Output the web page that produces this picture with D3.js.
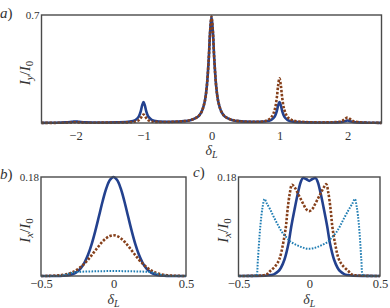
<!DOCTYPE html>
<html>
<head>
<meta charset="utf-8">
<script src="https://cdn.jsdelivr.net/npm/d3@7"></script>
<style>
  body { margin: 0; background: #fff; }
  text { font-family: "Liberation Serif", "DejaVu Serif", serif; fill: #333; }
</style>
</head>
<body>
<div id="chart"></div>
<script>
// ---- data ----
// panel a) : I_y / I_0 against delta_L
const aX = [-2.5, -2.3, -2.15, -2.08, -2.04, -2, -1.96, -1.92, -1.85, -1.7, -1.4, -1.2, -1.12, -1.07, -1.04, -1.02, -1,
  -0.98, -0.96, -0.93, -0.88, -0.8, -0.6, -0.4, -0.3, -0.2, -0.15, -0.1, -0.07, -0.04, -0.02, 0,
  0.02, 0.04, 0.07, 0.1, 0.15, 0.2, 0.3, 0.4, 0.6, 0.8, 0.88, 0.93, 0.96, 0.98, 1,
  1.02, 1.04, 1.07, 1.12, 1.2, 1.4, 1.7, 1.85, 1.92, 1.96, 2, 2.04, 2.08, 2.15, 2.3, 2.5];
const aBlue = [0.001, 0.002, 0.004, 0.006, 0.008, 0.01, 0.008, 0.006, 0.004, 0.003, 0.004, 0.009, 0.019, 0.041, 0.077, 0.114, 0.135,
  0.114, 0.077, 0.042, 0.021, 0.011, 0.008, 0.012, 0.02, 0.041, 0.069, 0.138, 0.233, 0.42, 0.595, 0.69,
  0.595, 0.42, 0.233, 0.138, 0.069, 0.041, 0.02, 0.012, 0.008, 0.011, 0.021, 0.042, 0.077, 0.114, 0.135,
  0.114, 0.077, 0.041, 0.019, 0.009, 0.004, 0.003, 0.004, 0.007, 0.012, 0.016, 0.012, 0.007, 0.004, 0.002, 0.001];
const aOrange = [0.001, 0.001, 0.002, 0.003, 0.004, 0.005, 0.004, 0.003, 0.002, 0.002, 0.003, 0.005, 0.009, 0.018, 0.032, 0.047, 0.055,
  0.047, 0.032, 0.018, 0.01, 0.007, 0.007, 0.012, 0.02, 0.041, 0.069, 0.138, 0.233, 0.42, 0.595, 0.69,
  0.595, 0.42, 0.233, 0.138, 0.069, 0.041, 0.02, 0.012, 0.008, 0.014, 0.038, 0.087, 0.163, 0.243, 0.29,
  0.243, 0.163, 0.087, 0.038, 0.016, 0.006, 0.004, 0.007, 0.013, 0.025, 0.035, 0.025, 0.013, 0.006, 0.002, 0.001];

// panel b) : I_x / I_0
const bX = [-0.5, -0.45, -0.4, -0.35, -0.3, -0.275, -0.25, -0.225, -0.2, -0.175, -0.15, -0.125, -0.1, -0.075, -0.05, -0.025, 0,
  0.025, 0.05, 0.075, 0.1, 0.125, 0.15, 0.175, 0.2, 0.225, 0.25, 0.275, 0.3, 0.35, 0.4, 0.45, 0.5];
const bBlue = [0, 0, 0, 0.0004, 0.002, 0.0041, 0.0079, 0.0143, 0.0244, 0.039, 0.0585, 0.0824, 0.109, 0.1359, 0.159, 0.1745, 0.18,
  0.1745, 0.159, 0.1359, 0.109, 0.0824, 0.0585, 0.039, 0.0244, 0.0143, 0.0079, 0.0041, 0.002, 0.0004, 0, 0, 0];
const bOrange = [0, 0.0002, 0.0007, 0.002, 0.0052, 0.0079, 0.0117, 0.0166, 0.0227, 0.0299, 0.038, 0.0466, 0.055, 0.0627, 0.0687, 0.0726, 0.074,
  0.0726, 0.0687, 0.0627, 0.055, 0.0466, 0.038, 0.0299, 0.0227, 0.0166, 0.0117, 0.0079, 0.0052, 0.002, 0.0007, 0.0002, 0];
const bLight = [0, 0, 0, 0.001, 0.005, 0.0065, 0.0072, 0.0076, 0.008, 0.0082, 0.0084, 0.0086, 0.0087, 0.0088, 0.0089, 0.009, 0.009,
  0.009, 0.0089, 0.0088, 0.0087, 0.0086, 0.0084, 0.0082, 0.008, 0.0076, 0.0072, 0.006, 0.004, 0.001, 0, 0, 0];

// panel c) : I_x / I_0
const cBlueX = [-0.5, -0.4, -0.3, -0.25, -0.217, -0.2, -0.175, -0.146, -0.127, -0.104, -0.08, -0.06, -0.045, -0.02, 0,
  0.02, 0.045, 0.06, 0.08, 0.104, 0.127, 0.146, 0.175, 0.2, 0.217, 0.25, 0.3, 0.4, 0.5];
const cBlue = [0, 0.0002, 0.001, 0.003, 0.009, 0.015, 0.03, 0.06, 0.09, 0.121, 0.151, 0.171, 0.178, 0.176, 0.173,
  0.176, 0.178, 0.171, 0.151, 0.121, 0.09, 0.06, 0.03, 0.015, 0.009, 0.003, 0.001, 0.0002, 0];
const cOrangeX = [-0.5, -0.4, -0.33, -0.3, -0.276, -0.24, -0.212, -0.184, -0.165, -0.153, -0.137, -0.122, -0.1, -0.08, -0.064, -0.04, -0.02, 0,
  0.02, 0.04, 0.064, 0.08, 0.1, 0.12, 0.135, 0.151, 0.163, 0.182, 0.21, 0.24, 0.276, 0.3, 0.33, 0.4, 0.5];
const cOrange = [0, 0.0003, 0.001, 0.003, 0.009, 0.018, 0.03, 0.06, 0.09, 0.121, 0.151, 0.166, 0.16, 0.15, 0.142, 0.13, 0.121, 0.118,
  0.121, 0.13, 0.142, 0.15, 0.16, 0.167, 0.151, 0.121, 0.09, 0.06, 0.03, 0.018, 0.009, 0.003, 0.001, 0.0003, 0];
const cLightX = [-0.5, -0.4, -0.38, -0.372, -0.363, -0.346, -0.33, -0.316, -0.3, -0.276, -0.25, -0.217, -0.19, -0.158, -0.13, -0.099, -0.06, -0.03, 0,
  0.03, 0.06, 0.099, 0.13, 0.158, 0.19, 0.217, 0.25, 0.28, 0.305, 0.322, 0.336, 0.352, 0.368, 0.378, 0.39, 0.4, 0.5];
const cLight = [0, 0, 0.0005, 0.002, 0.03, 0.09, 0.125, 0.14, 0.132, 0.121, 0.107, 0.0906, 0.079, 0.0695, 0.062, 0.0574, 0.053, 0.0505, 0.0495,
  0.0505, 0.053, 0.0574, 0.062, 0.0695, 0.079, 0.0906, 0.107, 0.121, 0.132, 0.14, 0.125, 0.09, 0.03, 0.002, 0.0005, 0, 0];

const aTicks = [-2, -1, 0, 1, 2];
const bcTicks = [-0.5, 0, 0.5];

// ---- drawing ----
const width = 390, height = 308;
const blue = "#23418e", brown = "#86401b", light = "#1f7db3";

const svg = d3.select("#chart").append("svg")
  .attr("width", width).attr("height", height)
  .attr("viewBox", [0, 0, width, height]);

function panel(box, xDomain, yMax, ticks, fmt, tickPad, series, tag, topLabel, ySub, yLabelX, deltaY) {
  const x = d3.scaleLinear().domain(xDomain).range([box.x0, box.x1]);
  const y = d3.scaleLinear().domain([0, yMax]).range([box.y1, box.y0]);

  const line = d3.line()
    .x(d => x(d[0])).y(d => y(d[1]))
    .curve(d3.curveCatmullRom.alpha(0.5));

  series.forEach(s => {
    svg.append("path")
      .datum(s.xs.map((v, i) => [v, s.ys[i]]))
      .attr("fill", "none")
      .attr("stroke", s.color)
      .attr("stroke-width", s.w)
      .attr("stroke-dasharray", s.dash)
      .attr("d", line);
  });

  svg.append("rect")
    .attr("x", box.x0).attr("y", box.y0)
    .attr("width", box.x1 - box.x0).attr("height", box.y1 - box.y0)
    .attr("fill", "none").attr("stroke", "#4a4a4a").attr("stroke-width", 1.4);

  const ax = svg.append("g")
    .attr("transform", `translate(0,${box.y1})`)
    .call(d3.axisBottom(x).tickValues(ticks).tickFormat(fmt).tickSize(0).tickPadding(tickPad));
  ax.select(".domain").remove();
  ax.selectAll("text").style("font-family", "Liberation Serif").style("font-size", "12.5px").attr("fill", "#333");

  // panel tag, e.g. a)
  svg.append("text").attr("x", tag.x).attr("y", tag.y)
    .style("font-size", "15px")
    .html(`<tspan font-style="italic">${tag.t}</tspan>)`);

  // top value of the y range
  svg.append("text").attr("x", box.x0 - 2).attr("y", box.y0 + 4)
    .attr("text-anchor", "end").style("font-size", "11px")
    .text(topLabel);

  // y label I_?/I_0
  const yl = svg.append("text")
    .attr("transform", `translate(${yLabelX},${(box.y0 + box.y1) / 2 + 4}) rotate(-90)`)
    .attr("text-anchor", "middle").style("font-size", "15px");
  yl.append("tspan").attr("font-style", "italic").text("I");
  yl.append("tspan").attr("font-style", "italic").attr("dy", 3).style("font-size", "11px").text(ySub);
  yl.append("tspan").attr("dy", -3).text("/");
  yl.append("tspan").attr("font-style", "italic").text("I");
  yl.append("tspan").attr("dy", 3).style("font-size", "11px").text("0");

  // x label delta_L
  const xl = svg.append("text")
    .attr("x", (box.x0 + box.x1) / 2).attr("y", deltaY)
    .attr("text-anchor", "middle").style("font-size", "14px");
  xl.append("tspan").attr("font-style", "italic").text("δ");
  xl.append("tspan").attr("font-style", "italic").attr("dy", 2.5).style("font-size", "10px").text("L");
}

const fmtBC = d => d === 0 ? "0" : d3.format(".1f")(d);

panel({x0: 41.5, x1: 381.5, y0: 15, y1: 123}, [-2.5, 2.5], 0.7, aTicks, d3.format("d"), 8,
  [
    {xs: aX, ys: aBlue, color: blue, w: 2.6, dash: null},
    {xs: aX, ys: aOrange, color: brown, w: 2.6, dash: "2.4,1.6"}
  ],
  {t: "a", x: 0, y: 18}, "0.7", "y", 30, 155);

panel({x0: 41, x1: 186, y0: 177, y1: 276}, [-0.5, 0.5], 0.18, bcTicks, fmtBC, 3.5,
  [
    {xs: bX, ys: bBlue, color: blue, w: 2.6, dash: null},
    {xs: bX, ys: bOrange, color: brown, w: 2.6, dash: "2.4,1.6"},
    {xs: bX, ys: bLight, color: light, w: 2, dash: "1.6,1.4"}
  ],
  {t: "b", x: 0, y: 179}, "0.18", "x", 30, 304);

panel({x0: 238.5, x1: 380, y0: 177, y1: 276}, [-0.5, 0.5], 0.18, bcTicks, fmtBC, 3.5,
  [
    {xs: cBlueX, ys: cBlue, color: blue, w: 2.6, dash: null},
    {xs: cOrangeX, ys: cOrange, color: brown, w: 2.6, dash: "2.4,1.6"},
    {xs: cLightX, ys: cLight, color: light, w: 2, dash: "1.6,1.4"}
  ],
  {t: "c", x: 193, y: 177}, "0.18", "x", 228, 304);
</script>
</body>
</html>
